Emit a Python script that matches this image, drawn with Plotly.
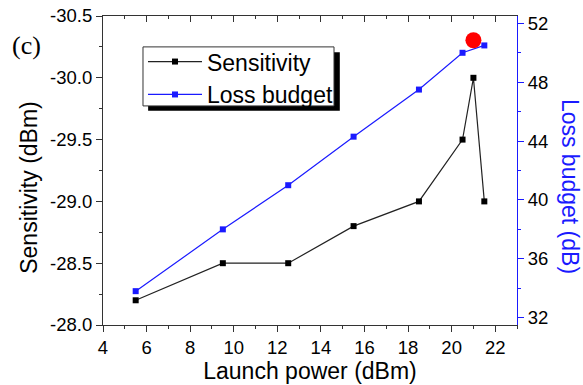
import plotly.graph_objects as go

launch_sens = [5.5, 9.5, 12.5, 15.5, 18.5, 20.5, 21.0, 21.5]
sensitivity = [-28.2, -28.5, -28.5, -28.8, -29.0, -29.5, -30.0, -29.0]
launch_loss = [5.5, 9.5, 12.5, 15.5, 18.5, 20.5, 21.5]
loss_budget = [33.8, 38.0, 41.0, 44.3, 47.5, 50.0, 50.5]
opt_x = [21.0]
opt_y = [50.85]

left_ticks = [-30.5, -30.0, -29.5, -29.0, -28.5, -28.0]
left_ticktext = ["-30.5", "-30.0", "-29.5", "-29.0", "-28.5", "-28.0"]
right_ticks = [32, 36, 40, 44, 48, 52]
x_ticks = [4, 6, 8, 10, 12, 14, 16, 18, 20, 22]

FONT = "Liberation Sans, Arial, sans-serif"
BLUE = "#1a1aff"
AX = "#333333"

fig = go.Figure()
fig.add_trace(go.Scatter(x=launch_sens, y=sensitivity, mode="lines+markers", name="Sensitivity",
                         line=dict(color="#222222", width=1.2),
                         marker=dict(symbol="square", size=6, color="black"), yaxis="y"))
fig.add_trace(go.Scatter(x=launch_loss, y=loss_budget, mode="lines+markers", name="Loss budget",
                         line=dict(color=BLUE, width=1.2),
                         marker=dict(symbol="square", size=6, color=BLUE), yaxis="y2"))
fig.add_trace(go.Scatter(x=opt_x, y=opt_y, mode="markers", showlegend=False,
                         marker=dict(symbol="circle", size=16, color="red"), yaxis="y2"))
# invisible trace to activate the mirrored top axis
fig.add_trace(go.Scatter(x=[4], y=[-28.0], mode="markers", marker=dict(opacity=0), showlegend=False,
                         xaxis="x2", yaxis="y", hoverinfo="skip"))

fig.update_layout(
    width=583, height=385,
    margin=dict(l=103, r=66, t=16, b=60, autoexpand=False),
    paper_bgcolor="white", plot_bgcolor="white",
    font=dict(family=FONT, size=18, color="black"),
    xaxis=dict(range=[4, 23], tickvals=x_ticks, ticks="outside", ticklen=6, tickwidth=1, tickcolor=AX,
               showline=True, linecolor=AX, linewidth=1.2, showgrid=False, zeroline=False,
               automargin=False,
               minor=dict(dtick=1, ticks="outside", ticklen=3, tickcolor=AX),
               title=dict(text="Launch power (dBm)", font=dict(size=23), standoff=2),
               tickfont=dict(size=18.5)),
    xaxis2=dict(range=[4, 23], overlaying="x", side="top", tickvals=x_ticks, ticks="inside", ticklen=6,
                tickcolor=AX, showticklabels=False, showline=True, linecolor=AX, linewidth=1.2,
                showgrid=False, zeroline=False, automargin=False,
                minor=dict(dtick=1, ticks="inside", ticklen=3, tickcolor=AX)),
    yaxis=dict(range=[-28.0, -30.5], tickvals=left_ticks, ticktext=left_ticktext, ticks="outside",
               ticklen=6, tickcolor=AX, showline=True, linecolor=AX, linewidth=1.2, showgrid=False,
               zeroline=False, automargin=False,
               minor=dict(tickvals=[-30.25, -29.75, -29.25, -28.75, -28.25], ticks="outside", ticklen=3,
                          tickcolor=AX),
               tickfont=dict(size=18.5)),
    yaxis2=dict(range=[31.5, 52.5], overlaying="y", side="right", tickvals=right_ticks, ticks="outside",
                ticklen=6, tickcolor=BLUE, showline=True, linecolor=BLUE, linewidth=1.2, showgrid=False,
                zeroline=False, automargin=False,
                minor=dict(tickvals=[34, 38, 42, 46, 50], ticks="outside", ticklen=3, tickcolor=BLUE),
                tickfont=dict(size=18.5, color="black")),
    legend=dict(x=0.0966, y=0.922, xanchor="left", yanchor="top", bgcolor="rgba(0,0,0,0)",
                borderwidth=0, font=dict(size=23), itemwidth=54, tracegroupgap=0),
    shapes=[
        dict(type="rect", xref="paper", yref="paper", x0=0.109, x1=0.572, y0=0.693, y1=0.883,
             fillcolor="black", line=dict(width=0), layer="above"),
        dict(type="rect", xref="paper", yref="paper", x0=0.0966, x1=0.558, y0=0.709, y1=0.900,
             fillcolor="white", line=dict(color=AX, width=1), layer="above"),
    ],
    annotations=[
        dict(text="(c)", xref="paper", yref="paper", x=-0.225, y=0.906, xanchor="left",
             yanchor="middle", showarrow=False,
             font=dict(family="Liberation Serif, Times New Roman, serif", size=26)),
        dict(text="Sensitivity (dBm)", xref="paper", yref="paper", x=-0.179, y=0.447,
             xanchor="center", yanchor="middle", textangle=-90, showarrow=False,
             font=dict(size=23, color="black")),
        dict(text="Loss budget (dB)", xref="paper", yref="paper", x=1.128, y=0.447,
             xanchor="center", yanchor="middle", textangle=90, showarrow=False,
             font=dict(size=23, color=BLUE)),
    ],
)

fig.write_html("out.html")
